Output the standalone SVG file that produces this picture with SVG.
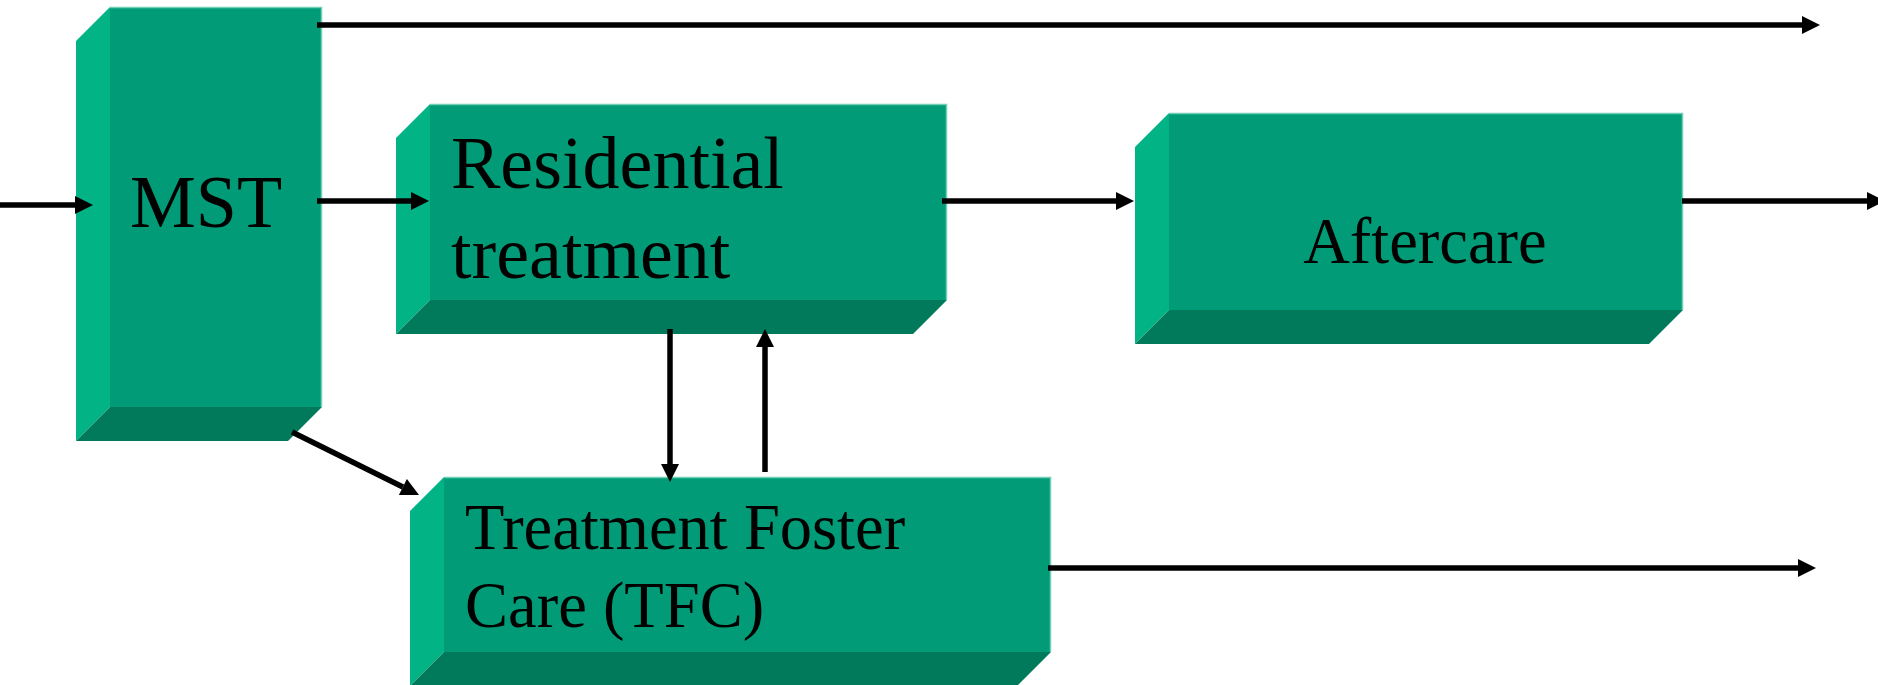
<svg xmlns="http://www.w3.org/2000/svg" width="1878" height="685" viewBox="0 0 1878 685">
  <style>
    .front { fill: #019c77; }
    .side { fill: #02b386; }
    .bottom { fill: #017a5b; }
    .rim { fill: none; stroke: #6fd0b4; stroke-width: 1.5; }
    .label { font-family: "Liberation Serif", "Times New Roman", serif; fill: #000; }
    .big { font-size: 74px; }
    .small { font-size: 64.5px; }
    .link { stroke: #000; stroke-width: 5.5; fill: none; marker-end: url(#head); }
  </style>
  <defs>
    <marker id="head" markerUnits="userSpaceOnUse" markerWidth="18" markerHeight="18" refX="0" refY="9" orient="auto" overflow="visible">
      <path d="M0,0 L18,9 L0,18 Z" fill="#000"/>
    </marker>
  </defs>
  <rect width="1878" height="685" fill="#fff"/>

  <!-- MST block -->
  <g id="mst">
    <polygon class="side" points="76,41 110,7 110,407 76,441"/>
    <polygon class="bottom" points="76,441 110,407 322,407 288,441"/>
    <rect class="front" x="110" y="7" width="212" height="400"/>
    <polyline class="rim" points="110,7.5 321.5,7.5 321.5,407"/>
    <text class="label big" x="130" y="227">MST</text>
  </g>

  <!-- Residential treatment block -->
  <g id="residential">
    <polygon class="side" points="396,138 430,104 430,300 396,334"/>
    <polygon class="bottom" points="396,334 430,300 947,300 913,334"/>
    <rect class="front" x="430" y="104" width="517" height="196"/>
    <polyline class="rim" points="430,104.5 946.5,104.5 946.5,300"/>
    <text class="label big" x="451" y="188">Residential</text>
    <text class="label big" x="451" y="278">treatment</text>
  </g>

  <!-- Aftercare block -->
  <g id="aftercare">
    <polygon class="side" points="1135,147 1169,113 1169,310 1135,344"/>
    <polygon class="bottom" points="1135,344 1169,310 1683,310 1649,344"/>
    <rect class="front" x="1169" y="113" width="514" height="197"/>
    <polyline class="rim" points="1169,113.5 1682.5,113.5 1682.5,310"/>
    <text class="label small" x="1425" y="263" text-anchor="middle">Aftercare</text>
  </g>

  <!-- Treatment Foster Care block -->
  <g id="tfc">
    <polygon class="side" points="410,511 444,477 444,652 410,686"/>
    <polygon class="bottom" points="410,686 444,652 1051,652 1017,686"/>
    <rect class="front" x="444" y="477" width="607" height="175"/>
    <polyline class="rim" points="444,477.5 1050.5,477.5 1050.5,652"/>
    <text class="label small" x="465" y="549">Treatment Foster</text>
    <text class="label small" x="465" y="627">Care (TFC)</text>
  </g>

  <!-- Connectors (lines stop at the arrowhead base) -->
  <g id="connectors">
    <line class="link" x1="0" y1="205" x2="75" y2="205"/>
    <line class="link" x1="317" y1="25" x2="1802" y2="25"/>
    <line class="link" x1="317" y1="201" x2="411" y2="201"/>
    <line class="link" x1="942" y1="201" x2="1116" y2="201"/>
    <line class="link" x1="1682" y1="201" x2="1867" y2="201"/>
    <line class="link" x1="670" y1="329" x2="670" y2="464"/>
    <line class="link" x1="765" y1="472" x2="765" y2="347"/>
    <line class="link" x1="292" y1="432" x2="402.9" y2="487"/>
    <line class="link" x1="1048" y1="568" x2="1798" y2="568"/>
  </g>
</svg>
